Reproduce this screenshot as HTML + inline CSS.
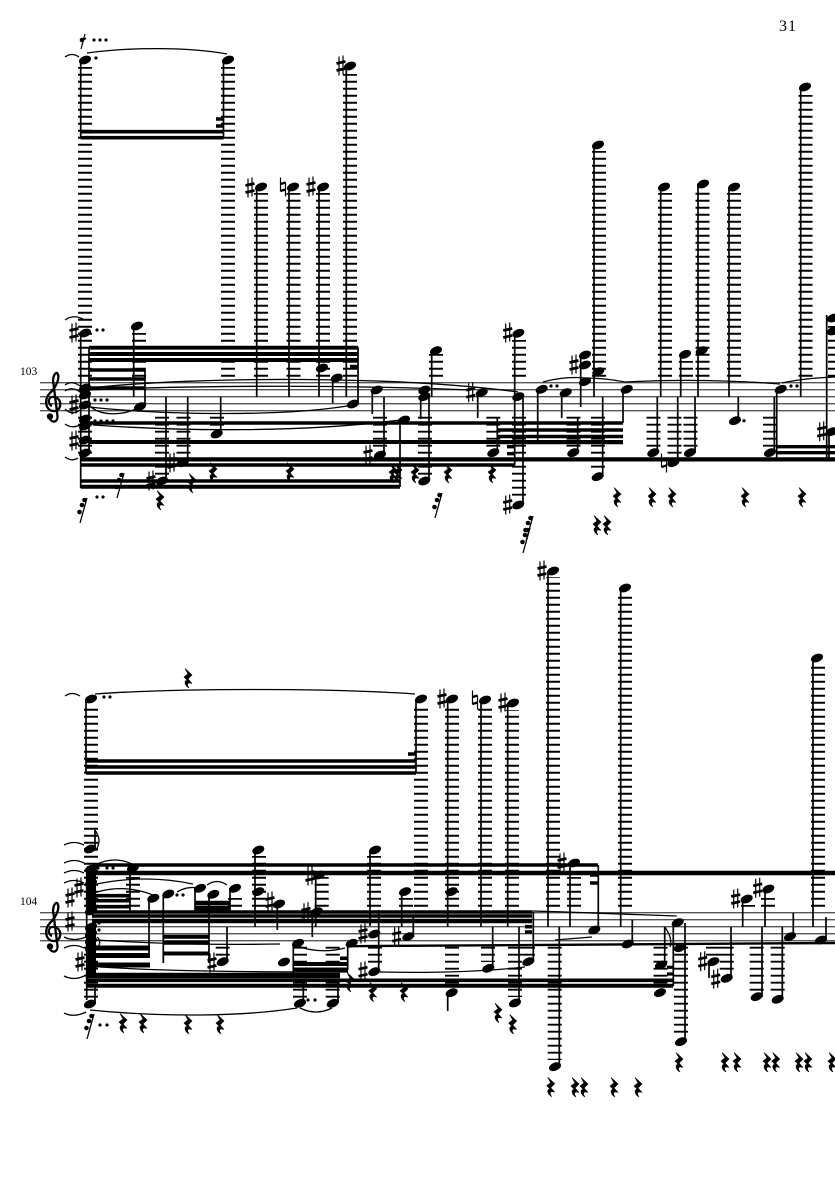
<!DOCTYPE html>
<html><head><meta charset="utf-8"><style>
html,body{margin:0;padding:0;background:#fff}
svg{display:block}
.L{stroke:#000;stroke-width:14;stroke-dasharray:1.9 5.1;fill:none}
.S{stroke:#000;stroke-width:1.7;fill:none}
.T{stroke:#000;stroke-width:1.3;fill:none}
.Z{stroke:#555;stroke-width:1.4;fill:none}
.B{stroke:#000;fill:none}
</style></head><body>
<svg width="835" height="1181" viewBox="0 0 835 1181" xmlns="http://www.w3.org/2000/svg">
<defs>
<ellipse id="n" rx="6.3" ry="4" transform="rotate(-22)"/>
<g id="s"><path d="M-2-9.5V9.5M2-10.5V8.5" stroke="#000" stroke-width="1.2"/><path d="M-4.5-2.5L4.5-4.5M-4.5 4.5L4.5 2.5" stroke="#000" stroke-width="2.7"/></g>
<g id="a"><path d="M-2.5-9.5V4.5M2.5-4.5V9.5" stroke="#000" stroke-width="1.2"/><path d="M-2.5-3L2.5-4.5M-2.5 4L2.5 2.5" stroke="#000" stroke-width="2.3"/></g>
<path id="r" d="M-3-9.5L4-3L0 1L4 5.5C0 4-2 5.5 1 10C-4 7-4 2-.5 2.5L-4-1L0-4Z" stroke="#000" stroke-width=".6"/>
<g id="R"><path d="M-3 13L4-12" stroke="#000" stroke-width="1.3"/><circle cx="1.5" cy="-10" r="2.3"/><circle cx="-1" cy="-5" r="2.3"/><circle cx="-3.5" cy="2" r="2.3"/></g>
<g id="c"><path d="M49.5 418C52 424 58 422 57.5 416L53.5 384C52 378 55 372 57 373C60 376 58 385 50 393C44 399 45 410 53 411C62 412 63 398 54 397C48 396 47 404 52 406" fill="none" stroke="#000" stroke-width="2.3"/><circle cx="50" cy="416.5" r="3.2"/></g>
</defs>
<rect width="835" height="1181" fill="#fff"/>
<text x="779" y="31" font-family="'Liberation Serif',serif" font-size="16" letter-spacing="1">31</text>
<text x="20" y="375" font-family="'Liberation Serif',serif" font-size="11.5">103</text>
<text x="20" y="905" font-family="'Liberation Serif',serif" font-size="11.5">104</text>

<path class="Z" d="M40 382.7H835M40 389.7H835M40 396.7H835M40 403.7H835M40 410.7H835M40 912.7H835M40 919.7H835M40 926.7H835M40 933.7H835M40 940.7H835"/>
<use href="#c"/><use href="#c" y="530"/>

<path class="L" d="M85 376.7V67M228 376.7V67M261 376.7V193M293.5 376.7V193M323 376.7V193M350 376.7V74M139 376.7V333M436 376.7V354M519 376.7V340M599 376.7V151M665 376.7V193M686 376.7V361M702.5 376.7V191M734 376.7V193M805.5 376.7V95M835 376.7V326"/>
<path class="L" d="M85 416.7V454M162 416.7V475M183.5 416.7V454M217 416.7V426M380 416.7V447M425 416.7V475M519 416.7V499M493.3 416.7V447M573.5 416.7V447M598 416.7V468M653.5 416.7V447M674.5 416.7V454M690.5 416.7V447M770 416.7V447"/>
<path class="L" d="M91 906.7V706M91 850V842M421 906.7V706M452 906.7V706M485 906.7V706M512 906.7V710M553 906.7V577M625 906.7V594M818 906.7V664M374 906.7V856M321.7 906.7V877M406 906.7V898M133 906.7V877M259 906.7V856M235 906.7V898M574 906.7V877M768 906.7V898M748 906.7V905"/>
<path class="L" d="M91 946.7V998M452 946.7V986M515 946.7V997M554.7 946.7V1060M681 946.7V1035M660.5 946.7V986M713 946.7V956M726.7 946.7V973M756.7 946.7V991M777.7 946.7V991M488 946.7V962M375 946.7V963M300 946.7V998M332.7 946.7V998M528 946.7V956M222.7 946.7V956"/>

<path class="S" d="M80.7 60V138M80.7 335V488M89 347V450M223.5 60V138M133.7 326V397M145 370V406M166 397V481M187.7 397V463M220.7 397V434M256.7 187V397M289 187V397M319 187V397M346.3 66V397M332.7 378V403M358 347V404M372.3 390V414M384 397V455M400 420V487M420.7 396V419M431.7 351V397M429 396V481M477.7 393V418M497.3 417V453M514.7 333V465M523 397V505M537.7 390V440M561.7 393V418M577.7 417V453M580.7 355V407M594 145V397M602.7 397V477M623 390V423M657.3 397V453M660.7 187V397M677.7 397V463M680.7 355V397M695 397V453M698 184V397M729 187V397M738.3 397V421M774.3 397V453M776.7 390V460M800.7 87V397M826.7 315V460M829 432V460"/>
<path class="S" d="M86 699V773M416 699V773M86.7 870V1000M95 985V1004M95 830V849M447.7 699V927M481 700V927M507.7 703V927M548 571V927M620.7 588V927M813 658V927M370 850V926M315.7 875V927M312.3 912V937M401.7 892V927M378.7 910V972M413.3 915V937M447.7 993V1011M492.7 927V968M519 927V1003M533.3 912V962M559.3 927V1067M130 868V912M149 898V953M163.3 894V963M195 888V912M209 894V963M230 888V912M255 850V927M277.3 906V930M227 927V962M293.3 945V978M347.7 943V970M303.3 980V1003M338 980V1003M570 863V927M598.3 865V930M632.3 920V944M673.3 923V986M685 923V1041M664.7 927V965M709 962V978M731 927V978M742.7 899V927M765 889V927M762 927V997M782.3 927V999M793.3 913V937M826 917V940"/>

<g class="B">
<path stroke-width="3.6" d="M80.7 131.7H223.5M80.7 137.7H223.5M216 119H223.5M216 126H223.5"/>
<path stroke-width="3.9" d="M89 347.7H358M89 354H358M89 360H358M350 366.7H358"/>
<path stroke-width="3.6" d="M89 370H145M89 379H145M89 388H145"/>
<path stroke-width="3.6" d="M90 423H623M497 430H623M497 436.5H623M497 442.5H623"/>
<path stroke-width="3.9" d="M89 442H623"/>
<path stroke-width="4.2" d="M80.7 459.4H835"/>
<path stroke-width="3.4" d="M80.7 465H515M80.7 481H400M507 446.7H514M507 453.7H514M776.7 446.7H835M776.7 452.7H835"/>
<path stroke-width="4" d="M80.7 486.7H400"/>
<path stroke-width="3.6" d="M86 761H416M86 767H416M86 773H416M408 754H416M92 865H598"/>
<path stroke-width="4.4" d="M92 873H835"/>
<path stroke-width="3.6" d="M92 895.7H130M92 900.7H130M92 906.7H130M92 912H532M92 916H532M590 875H598M590 883H598M525 926.7H532M525 932H532M340 958.3H347"/>
<path stroke-width="4.4" d="M92 921H532M195 903H230M195 908H230M195 911H230"/>
<path stroke-width="5" d="M88 948H150M88 955.5H150M88 965H150"/>
<path stroke-width="4" d="M163 936.7H209M163 942.7H209M163 953.5H209M293 964H348M293 969.5H348M293 975H340"/>
<path stroke-width="5.5" d="M86 975.5H340"/>
<path stroke-width="3.6" d="M86 980.3H673"/>
<path stroke-width="4" d="M86 985.8H673"/>
<path stroke-width="3.2" d="M667 967.3H673M667 974H673"/>
<path stroke-width="2.4" d="M348 946.2L835 943"/>
</g>
<rect x="87" y="866" width="9" height="46"/>
<rect x="87" y="925" width="9" height="50"/>

<g>
<use href="#n" x="85" y="60"/><use href="#n" x="85" y="333"/><use href="#n" x="228" y="60"/>
<use href="#n" x="85" y="388"/><use href="#n" x="85" y="395"/><use href="#n" x="85" y="405"/><use href="#n" x="85" y="419"/><use href="#n" x="85" y="426"/><use href="#n" x="85" y="440"/><use href="#n" x="85" y="453"/>
<use href="#n" x="137" y="326"/><use href="#n" x="140" y="406.7"/><use href="#n" x="162" y="481"/><use href="#n" x="182.7" y="462.7"/><use href="#n" x="216.7" y="434"/>
<use href="#n" x="261" y="187"/><use href="#n" x="293" y="187"/><use href="#n" x="323" y="187"/><use href="#n" x="350" y="66"/><use href="#n" x="322" y="368"/><use href="#n" x="336.7" y="378"/><use href="#n" x="353" y="404"/>
<use href="#n" x="376.7" y="390"/><use href="#n" x="380" y="455"/><use href="#n" x="404" y="420"/><use href="#n" x="424.3" y="390"/><use href="#n" x="424.3" y="396.7"/><use href="#n" x="436" y="350.7"/><use href="#n" x="424.3" y="481"/><use href="#n" x="481.7" y="392.7"/>
<use href="#n" x="493.3" y="452.7"/><use href="#n" x="518.3" y="333.3"/><use href="#n" x="518.3" y="396.7"/><use href="#n" x="518.3" y="505"/><use href="#n" x="541.7" y="389.3"/><use href="#n" x="565.7" y="392.7"/>
<use href="#n" x="585" y="355"/><use href="#n" x="585" y="365"/><use href="#n" x="585" y="381.7"/><use href="#n" x="598.3" y="371.7"/><use href="#n" x="598" y="145"/><use href="#n" x="626.7" y="389.3"/><use href="#n" x="573.3" y="452.7"/><use href="#n" x="597.7" y="476.7"/>
<use href="#n" x="653.3" y="452.7"/><use href="#n" x="664" y="187"/><use href="#n" x="673.3" y="462.7"/><use href="#n" x="690" y="452.7"/><use href="#n" x="685" y="354.3"/><use href="#n" x="701.7" y="350.7"/><use href="#n" x="703" y="184"/><use href="#n" x="734" y="187"/><use href="#n" x="735" y="420.7"/>
<use href="#n" x="770" y="452.7"/><use href="#n" x="780.7" y="389.3"/><use href="#n" x="805" y="87"/><use href="#n" x="833" y="318"/><use href="#n" x="833" y="331"/><use href="#n" x="831.7" y="431.7"/>
</g>
<g>
<use href="#n" x="91" y="699"/><use href="#n" x="421" y="699"/><use href="#n" x="452" y="699"/><use href="#n" x="485" y="700"/><use href="#n" x="513" y="703"/><use href="#n" x="553" y="571"/><use href="#n" x="625" y="588"/><use href="#n" x="817" y="658"/>
<use href="#n" x="90" y="849"/><use href="#n" x="90" y="1004"/>
<use href="#n" x="91" y="869"/><use href="#n" x="91" y="883"/><use href="#n" x="91" y="911"/><use href="#n" x="91" y="927"/><use href="#n" x="91" y="934"/><use href="#n" x="91" y="941"/><use href="#n" x="91" y="948"/>
<use href="#n" x="133" y="868"/><use href="#n" x="153.3" y="898.3"/><use href="#n" x="168.3" y="894"/><use href="#n" x="200" y="888.3"/><use href="#n" x="213.3" y="894.3"/><use href="#n" x="235" y="888.3"/><use href="#n" x="258.3" y="850"/><use href="#n" x="258.3" y="891.7"/><use href="#n" x="279" y="904"/><use href="#n" x="222.7" y="961.7"/>
<use href="#n" x="298" y="943.3"/><use href="#n" x="351.7" y="943.3"/><use href="#n" x="300" y="1003.3"/><use href="#n" x="332.7" y="1003.3"/><use href="#n" x="319.3" y="875"/><use href="#n" x="316.7" y="911.7"/><use href="#n" x="284" y="962"/>
<use href="#n" x="375" y="850"/><use href="#n" x="405" y="891.7"/><use href="#n" x="451.7" y="891.7"/><use href="#n" x="374.3" y="934"/><use href="#n" x="374.3" y="971.7"/><use href="#n" x="408.3" y="936.7"/><use href="#n" x="451.7" y="992.7"/><use href="#n" x="488.3" y="968.3"/><use href="#n" x="515" y="1003"/><use href="#n" x="528.3" y="961.7"/><use href="#n" x="555" y="1066.7"/>
<use href="#n" x="574" y="863"/><use href="#n" x="594.3" y="930"/><use href="#n" x="627.7" y="944"/><use href="#n" x="677.7" y="922.7"/><use href="#n" x="680" y="947.7"/><use href="#n" x="681" y="1041.7"/><use href="#n" x="661" y="965"/><use href="#n" x="660" y="992.7"/>
<use href="#n" x="713.3" y="961.7"/><use href="#n" x="726.7" y="978.3"/><use href="#n" x="746.7" y="899"/><use href="#n" x="768.3" y="889"/><use href="#n" x="756.7" y="996.7"/><use href="#n" x="777.7" y="999.3"/><use href="#n" x="790" y="936.7"/><use href="#n" x="821" y="940"/>
</g>

<use href="#s" x="74" y="333"/><use href="#s" x="74" y="405"/><use href="#s" x="74" y="441"/><use href="#s" x="151" y="481"/><use href="#s" x="172" y="463"/><use href="#s" x="250" y="188"/><use href="#a" x="283" y="187"/><use href="#s" x="311" y="187"/><use href="#s" x="341" y="66"/><use href="#s" x="368" y="455"/><use href="#s" x="470.7" y="392.7"/><use href="#s" x="507.7" y="333"/><use href="#s" x="507.7" y="505"/><use href="#s" x="574" y="365"/><use href="#a" x="664" y="463"/><use href="#s" x="821.7" y="431.7"/>
<use href="#s" x="442" y="699"/><use href="#a" x="475" y="700"/><use href="#s" x="503" y="703"/><use href="#s" x="542" y="571"/><use href="#s" x="79" y="888"/><use href="#s" x="70" y="898"/><use href="#s" x="70" y="922"/><use href="#s" x="80" y="962"/><use href="#s" x="270" y="902"/><use href="#s" x="212" y="963"/><use href="#s" x="310" y="876"/><use href="#s" x="306" y="912.7"/><use href="#s" x="363" y="934"/><use href="#s" x="363" y="971.7"/><use href="#s" x="396.7" y="936.7"/><use href="#s" x="562" y="863"/><use href="#s" x="702.7" y="961.7"/><use href="#s" x="715.7" y="979.3"/><use href="#s" x="735.7" y="899"/><use href="#s" x="757.7" y="888.3"/>

<use href="#r" x="160" y="500"/><use href="#r" x="213" y="472"/><use href="#r" x="192" y="483"/><use href="#r" x="290" y="472"/><use href="#r" x="393" y="473"/><use href="#r" x="398" y="473"/><use href="#r" x="415" y="473"/><use href="#r" x="448" y="473"/><use href="#r" x="492" y="473"/><use href="#r" x="617" y="497"/><use href="#r" x="652" y="497"/><use href="#r" x="672" y="497"/><use href="#r" x="745" y="497"/><use href="#r" x="802" y="497"/><use href="#r" x="597" y="525"/><use href="#r" x="607" y="525"/>
<use href="#r" x="188" y="678"/><use href="#r" x="123" y="1023"/><use href="#r" x="143" y="1023"/><use href="#r" x="188" y="1024"/><use href="#r" x="220" y="1024"/><use href="#r" x="372.7" y="991.7"/><use href="#r" x="404" y="991.7"/><use href="#r" x="498" y="1012.7"/><use href="#r" x="512.7" y="1024"/><use href="#r" x="550.7" y="1086.7"/><use href="#r" x="350" y="982"/><use href="#r" x="679" y="1062"/><use href="#r" x="725" y="1062"/><use href="#r" x="737" y="1062"/><use href="#r" x="767" y="1062"/><use href="#r" x="775.7" y="1062"/><use href="#r" x="799" y="1062"/><use href="#r" x="808" y="1062"/><use href="#r" x="832" y="1062"/><use href="#r" x="575" y="1087"/><use href="#r" x="584" y="1087"/><use href="#r" x="614" y="1087"/><use href="#r" x="638" y="1087"/>
<use href="#R" x="120" y="485"/><use href="#R" x="83" y="510"/><use href="#R" x="438" y="505"/><use href="#R" x="529" y="528"/><use href="#R" x="526" y="540"/><use href="#R" x="90" y="1026"/>
<path d="M85 34L81 49" stroke="#000" stroke-width="1.2"/><circle cx="82" cy="40" r="2.3"/><path d="M82 41L86 38" stroke="#000" stroke-width="1.5"/>

<g>
<circle cx="96" cy="58" r="1.6"/><circle cx="94" cy="40" r="1.6"/><circle cx="100" cy="40" r="1.6"/><circle cx="106" cy="40" r="1.6"/>
<circle cx="97" cy="330" r="1.6"/><circle cx="103" cy="330" r="1.6"/><circle cx="95" cy="400" r="1.6"/><circle cx="101" cy="400" r="1.6"/><circle cx="107" cy="400" r="1.6"/><circle cx="95" cy="421" r="1.6"/><circle cx="101" cy="421" r="1.6"/><circle cx="107" cy="421" r="1.6"/><circle cx="113" cy="421" r="1.6"/><circle cx="97" cy="497" r="1.6"/><circle cx="103" cy="497" r="1.6"/><circle cx="551" cy="386" r="1.6"/><circle cx="557" cy="386" r="1.6"/><circle cx="744" cy="420.7" r="1.6"/><circle cx="791" cy="386" r="1.6"/><circle cx="797" cy="386" r="1.6"/>
<circle cx="104" cy="697" r="1.6"/><circle cx="110" cy="697" r="1.6"/><circle cx="98" cy="868" r="1.6"/><circle cx="107" cy="868" r="1.6"/><circle cx="113" cy="868" r="1.6"/><circle cx="99" cy="923" r="1.6"/><circle cx="99" cy="930" r="1.6"/><circle cx="177" cy="895" r="1.6"/><circle cx="183" cy="895" r="1.6"/><circle cx="100" cy="1025" r="1.6"/><circle cx="107" cy="1025" r="1.6"/><circle cx="308" cy="1000" r="1.6"/><circle cx="315" cy="1000" r="1.6"/>
</g>

<path class="T" d="M65 57Q72 52 79 57M87 53C130 47 190 47 227 54M65 320Q73 314 83 319M65 385Q72 380 80 386M65 391Q72 386 80 392M65 409Q72 416 80 410M65 424Q72 429 80 425M65 457Q72 462 78 458"/>
<path class="T" stroke-width="1.6" d="M90 388C200 376 400 376 518 392M90 390C200 385 350 385 470 390M90 406C100 416 122 416 138 408M90 407C150 414 280 418 353 405M93 425C180 431 300 433 400 420M543 382Q565 376 585 378Q605 378 625 382Q700 378 780 384M782 383Q805 378 835 377"/>
<path class="T" d="M95 694C180 688 330 688 415 694M65 696Q72 691 80 696M64 845Q74 840 84 845M64 863Q74 858 84 863M64 873Q74 868 84 873M64 883Q74 878 84 883M64 937Q74 942 86 937M64 948Q74 943 84 948M64 976Q74 981 84 976M64 1013Q74 1018 86 1012"/>
<path class="T" d="M97 864Q115 856 132 864M97 892Q125 884 153 895M97 884Q145 874 193 884M207 885Q217 878 227 885M177 892Q187 886 197 888M96 940C160 944 220 945 280 944M100 967C180 972 280 972 348 972M90 1010C160 1017 240 1017 297 1008M300 1008Q316 1016 332 1008M300 947Q322 954 345 948M555 911.7L676.7 916M532 911L555 911.7M555 940L592 937M380 972C430 973 480 972 525 967"/>
<path class="T" stroke-width="1.7" d="M95 830C99 836 101 842 96 850M97 937C101 940 100 945 97 948M665 927C670 935 672 940 670 947"/>
</svg>
</body></html>
